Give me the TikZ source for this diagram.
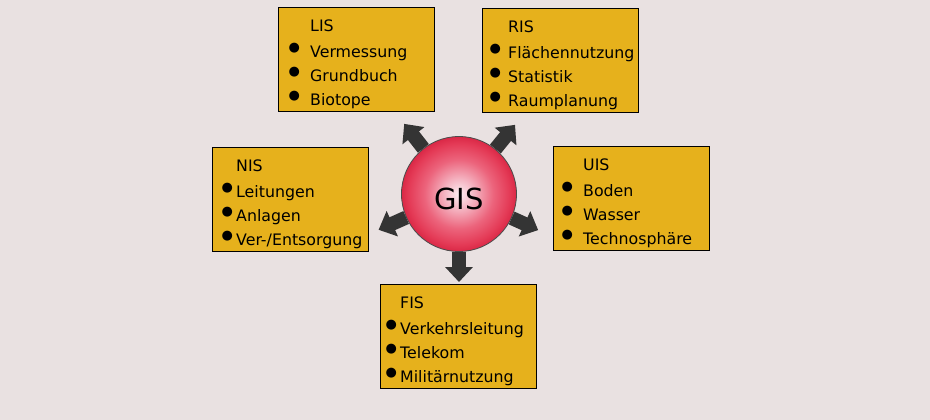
\documentclass[tikz,border=0pt]{standalone}
\usepackage{fontspec}
\setmainfont{DejaVu Sans}
\usepackage{tikz}
\usetikzlibrary {arrows.meta,
                 positioning}
\definecolor{bgcol}{RGB}{233,225,225}
\definecolor{boxgold}{RGB}{230,177,28}
\definecolor{arrowgray}{RGB}{52,52,52}
\definecolor{hubcore}{RGB}{252,238,242}
\definecolor{hubpink}{RGB}{245,185,198}
\definecolor{hubmid}{RGB}{236,100,124}
\definecolor{hubred}{RGB}{228,58,86}
\definecolor{hubrim}{RGB}{218,40,70}
% Kreisrand liegt bei 25bp
\pgfdeclareradialshading{hubshade}{\pgfpoint{0bp}{0bp}}{%
        color(0bp)=(hubcore); color(6bp)=(hubpink); color(15bp)=(hubmid);
        color(22bp)=(hubred); color(25bp)=(hubrim); color(50bp)=(hubrim)}
% Aufzaehlungspunkt, #1 = Abstand Punktmitte bis Text
\newcommand{\itm}[1]{\leavevmode\llap{\makebox[0pt]{%
        \raisebox{5.5pt}{\fontsize{13}{13}\selectfont ●}}\hspace{#1}}}
\tikzset{
        sysbox/.style={draw, fill=boxgold, anchor=north west, align=left,
                       text width=156pt, inner xsep=0pt, inner ysep=0pt,
                       text height=24pt, text depth=80pt,
                       font=\fontsize{15.8}{24}\selectfont},
        hub/.style={circle, draw=black!70, line width=0.8pt, shading=hubshade,
                    minimum size=115pt, inner sep=0pt, text height=32pt,
                    font=\fontsize{29}{29}\selectfont},
        bigarrow/.style={-{Triangle[width=27pt,length=15pt]}, line width=14pt,
                         draw=arrowgray},
 }

\begin{document}
\begin{tikzpicture}[x=1pt, y=-1pt]
        \useasboundingbox[fill=bgcol] (0,0) rectangle (930,420);

        \node[hub] (gis) at (459,194) {GIS};

        \node[sysbox] (lis) at (278,7) {\leftskip=32pt LIS\\[2pt]
              \itm{16pt}Vermessung\\ \itm{16pt}Grundbuch\\
              \itm{16pt}Biotope\par};
        \node[sysbox] (ris) at (482,8) {\leftskip=26pt RIS\\[2pt]
              \itm{13pt}Flächennutzung\\ \itm{13pt}Statistik\\
              \itm{13pt}Raumplanung\par};
        \node[sysbox] (nis) at (212,147) {\leftskip=24pt NIS\\[2pt]
              \itm{9pt}Leitungen\\ \itm{9pt}Anlagen\\
              \itm{9pt}Ver-/Entsorgung\par};
        \node[sysbox] (uis) at (553,146) {\leftskip=30pt UIS\\[2pt]
              \itm{16pt}Boden\\ \itm{16pt}Wasser\\
              \itm{16pt}Technosphäre\par};
        \node[sysbox] (fis) at (380,284) {\leftskip=20pt FIS\\[2pt]
              \itm{9pt}Verkehrsleitung\\ \itm{9pt}Telekom\\
              \itm{9pt}Militärnutzung\par};

        \coordinate (lisend) at ([shift={(128:89pt)}]gis.center);
        \coordinate (risend) at ([shift={(51:89pt)}]gis.center);
        \coordinate (nisend) at ([shift={(204:88pt)}]gis.center);
        \coordinate (uisend) at ([shift={(-24.5:87pt)}]gis.center);
        \coordinate (fisend) at ([shift={(270:88pt)}]gis.center);

        \draw[bigarrow] (gis) -- (lisend);
        \draw[bigarrow] (gis) -- (risend);
        \draw[bigarrow] (gis) -- (nisend);
        \draw[bigarrow] (gis) -- (uisend);
        \draw[bigarrow] (gis) -- (fisend);

\end{tikzpicture}
\end{document}
